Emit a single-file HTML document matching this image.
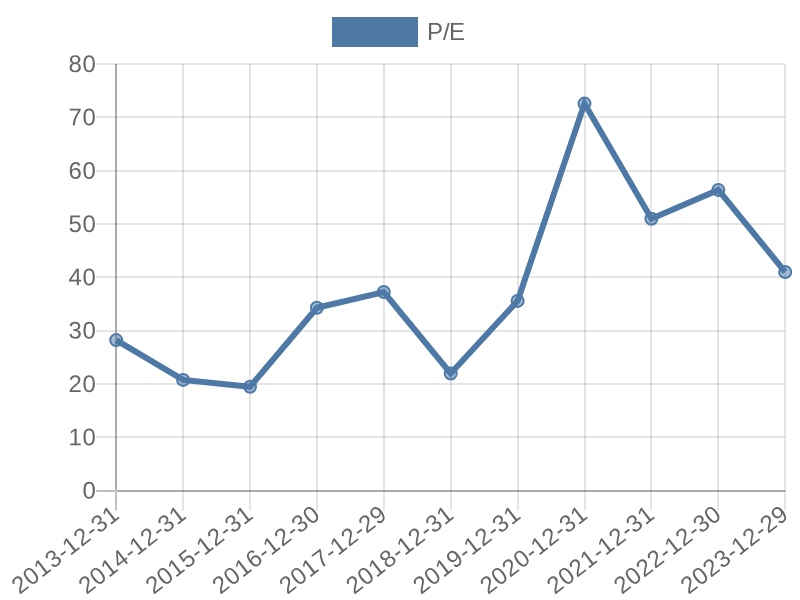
<!DOCTYPE html>
<html lang="en"><head><meta charset="utf-8"><title>P/E</title>
<style>html,body{margin:0;padding:0;background:#fff;}body{width:800px;height:600px;overflow:hidden;}svg{display:block;}text{font-family:"Liberation Sans",Arial,Helvetica,sans-serif;font-size:24px;fill:#666;}</style></head><body>
<svg width="800" height="600" viewBox="0 0 800 600">
<rect width="800" height="600" fill="#fff"/>
<rect x="335" y="20" width="80" height="24" fill="#4e79a7" stroke="#4e79a7" stroke-width="6"/>
<text x="427" y="40.0" dx="0 -0.008 -0.668">P/E</text>
<g><rect x="115" y="64" width="2" height="446.5" fill="rgba(0,0,0,0.25)"/><rect x="182" y="64" width="2" height="446.5" fill="rgba(0,0,0,0.1)"/><rect x="249" y="64" width="2" height="446.5" fill="rgba(0,0,0,0.1)"/><rect x="316" y="64" width="2" height="446.5" fill="rgba(0,0,0,0.1)"/><rect x="383" y="64" width="2" height="446.5" fill="rgba(0,0,0,0.1)"/><rect x="450" y="64" width="2" height="446.5" fill="rgba(0,0,0,0.1)"/><rect x="517" y="64" width="2" height="446.5" fill="rgba(0,0,0,0.1)"/><rect x="584" y="64" width="2" height="446.5" fill="rgba(0,0,0,0.1)"/><rect x="650" y="64" width="2" height="446.5" fill="rgba(0,0,0,0.1)"/><rect x="717" y="64" width="2" height="446.5" fill="rgba(0,0,0,0.1)"/><rect x="784" y="64" width="2" height="446.5" fill="rgba(0,0,0,0.1)"/><rect x="96.2" y="490" width="689.0" height="2" fill="rgba(0,0,0,0.25)"/><rect x="96.2" y="436" width="689.0" height="2" fill="rgba(0,0,0,0.1)"/><rect x="96.2" y="383" width="689.0" height="2" fill="rgba(0,0,0,0.1)"/><rect x="96.2" y="330" width="689.0" height="2" fill="rgba(0,0,0,0.1)"/><rect x="96.2" y="276" width="689.0" height="2" fill="rgba(0,0,0,0.1)"/><rect x="96.2" y="223" width="689.0" height="2" fill="rgba(0,0,0,0.1)"/><rect x="96.2" y="170" width="689.0" height="2" fill="rgba(0,0,0,0.1)"/><rect x="96.2" y="116" width="689.0" height="2" fill="rgba(0,0,0,0.1)"/><rect x="96.2" y="63" width="689.0" height="2" fill="rgba(0,0,0,0.1)"/><rect x="115" y="64" width="2" height="428" fill="rgba(0,0,0,0.1)"/><rect x="115" y="490" width="671" height="2" fill="rgba(0,0,0,0.1)"/><rect x="115" y="490" width="2" height="2" fill="#cdcdcd"/></g>
<text transform="translate(95.798,498.50) rotate(-0.03)" dx="0" text-anchor="end">0</text>
<text transform="translate(95.798,445.19) rotate(-0.03)" dx="0 0.652" text-anchor="end">10</text>
<text transform="translate(95.798,391.88) rotate(-0.03)" dx="0 0.652" text-anchor="end">20</text>
<text transform="translate(95.798,338.56) rotate(-0.03)" dx="0 0.652" text-anchor="end">30</text>
<text transform="translate(95.798,285.25) rotate(-0.03)" dx="0 0.652" text-anchor="end">40</text>
<text transform="translate(95.798,231.94) rotate(-0.03)" dx="0 0.652" text-anchor="end">50</text>
<text transform="translate(95.798,178.62) rotate(-0.03)" dx="0 0.652" text-anchor="end">60</text>
<text transform="translate(95.798,125.31) rotate(-0.03)" dx="0 0.652" text-anchor="end">70</text>
<text transform="translate(95.798,72.00) rotate(-0.03)" dx="0 0.652" text-anchor="end">80</text>
<text transform="translate(116.20,510.5) rotate(-37.6)" x="-0.652" y="8.0" dx="0 0.652 0.652 0.652 0.652 0.008 0.652 0.652 0.008 0.652" text-anchor="end">2013-12-31</text>
<text transform="translate(183.10,510.5) rotate(-37.6)" x="-0.652" y="8.0" dx="0 0.652 0.652 0.652 0.652 0.008 0.652 0.652 0.008 0.652" text-anchor="end">2014-12-31</text>
<text transform="translate(250.00,510.5) rotate(-37.6)" x="-0.652" y="8.0" dx="0 0.652 0.652 0.652 0.652 0.008 0.652 0.652 0.008 0.652" text-anchor="end">2015-12-31</text>
<text transform="translate(316.90,510.5) rotate(-37.6)" x="-0.652" y="8.0" dx="0 0.652 0.652 0.652 0.652 0.008 0.652 0.652 0.008 0.652" text-anchor="end">2016-12-30</text>
<text transform="translate(383.80,510.5) rotate(-37.6)" x="-0.652" y="8.0" dx="0 0.652 0.652 0.652 0.652 0.008 0.652 0.652 0.008 0.652" text-anchor="end">2017-12-29</text>
<text transform="translate(450.70,510.5) rotate(-37.6)" x="-0.652" y="8.0" dx="0 0.652 0.652 0.652 0.652 0.008 0.652 0.652 0.008 0.652" text-anchor="end">2018-12-31</text>
<text transform="translate(517.60,510.5) rotate(-37.6)" x="-0.652" y="8.0" dx="0 0.652 0.652 0.652 0.652 0.008 0.652 0.652 0.008 0.652" text-anchor="end">2019-12-31</text>
<text transform="translate(584.50,510.5) rotate(-37.6)" x="-0.652" y="8.0" dx="0 0.652 0.652 0.652 0.652 0.008 0.652 0.652 0.008 0.652" text-anchor="end">2020-12-31</text>
<text transform="translate(651.40,510.5) rotate(-37.6)" x="-0.652" y="8.0" dx="0 0.652 0.652 0.652 0.652 0.008 0.652 0.652 0.008 0.652" text-anchor="end">2021-12-31</text>
<text transform="translate(718.30,510.5) rotate(-37.6)" x="-0.652" y="8.0" dx="0 0.652 0.652 0.652 0.652 0.008 0.652 0.652 0.008 0.652" text-anchor="end">2022-12-30</text>
<text transform="translate(785.20,510.5) rotate(-37.6)" x="-0.652" y="8.0" dx="0 0.652 0.652 0.652 0.652 0.008 0.652 0.652 0.008 0.652" text-anchor="end">2023-12-29</text>
<path d="M116.20 340.10 L183.10 379.90 L250.00 386.80 L316.90 307.80 L383.80 292.00 L450.70 373.50 L517.60 300.90 L584.50 103.60 L651.40 218.80 L718.30 189.90 L785.20 272.00" fill="none" stroke="#4e79a7" stroke-width="6" stroke-linejoin="miter" stroke-linecap="butt"/>
<circle cx="116.20" cy="340.10" r="6" fill="rgba(78,121,167,0.5)" stroke="#4e79a7" stroke-width="2"/>
<circle cx="183.10" cy="379.90" r="6" fill="rgba(78,121,167,0.5)" stroke="#4e79a7" stroke-width="2"/>
<circle cx="250.00" cy="386.80" r="6" fill="rgba(78,121,167,0.5)" stroke="#4e79a7" stroke-width="2"/>
<circle cx="316.90" cy="307.80" r="6" fill="rgba(78,121,167,0.5)" stroke="#4e79a7" stroke-width="2"/>
<circle cx="383.80" cy="292.00" r="6" fill="rgba(78,121,167,0.5)" stroke="#4e79a7" stroke-width="2"/>
<circle cx="450.70" cy="373.50" r="6" fill="rgba(78,121,167,0.5)" stroke="#4e79a7" stroke-width="2"/>
<circle cx="517.60" cy="300.90" r="6" fill="rgba(78,121,167,0.5)" stroke="#4e79a7" stroke-width="2"/>
<circle cx="584.50" cy="103.60" r="6" fill="rgba(78,121,167,0.5)" stroke="#4e79a7" stroke-width="2"/>
<circle cx="651.40" cy="218.80" r="6" fill="rgba(78,121,167,0.5)" stroke="#4e79a7" stroke-width="2"/>
<circle cx="718.30" cy="189.90" r="6" fill="rgba(78,121,167,0.5)" stroke="#4e79a7" stroke-width="2"/>
<circle cx="785.20" cy="272.00" r="6" fill="rgba(78,121,167,0.5)" stroke="#4e79a7" stroke-width="2"/>
</svg></body></html>
